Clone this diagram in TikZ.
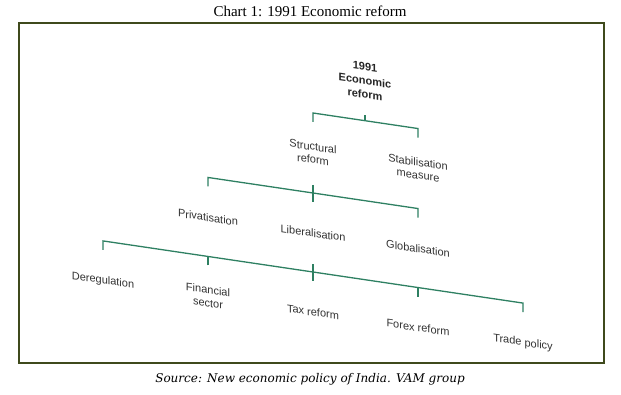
\documentclass[tikz,border=0pt]{standalone}
\usepackage{fontspec}
\setmainfont{Liberation Serif}
\setsansfont{Liberation Sans}
\newfontfamily\sourcefont{DejaVu Serif}

\definecolor{treegreen}{HTML}{2E8062}
\definecolor{framegreen}{HTML}{3F4A1C}
\definecolor{labelgray}{HTML}{333333}

\tikzset{
  item/.style={font=\sffamily\fontsize{11}{13}\selectfont, text=labelgray, align=center, inner sep=0pt, transform shape},
  root/.style={item, font=\sffamily\bfseries\fontsize{11}{14}\selectfont, text=black!85},
  branch/.style={draw=treegreen, line width=1.3pt}
}

\begin{document}
\begin{tikzpicture}[x=1pt,y=1pt]
    \useasboundingbox (0,0) rectangle (621,394);

    % Title, frame and source line
    \node[font=\fontsize{15}{17}\selectfont] (title) at (310,383) {Chart 1: 1991 Economic reform};
    \draw[framegreen, line width=1.2pt] (19,31) rectangle (604,371);
    \node[font=\sourcefont\itshape\fontsize{12}{14}\selectfont] (source) at (310,15) {Source: New economic policy of India. VAM group};

    \begin{scope}[shift={(313,0)}, yslant=-0.148]
    % Define nodes
    \node[root]		(reform)	at (52,321)		{1991\\Economic\\reform};
    \node[item]		(struct)	at (0,241)		{Structural\\reform};
    \node[item]		(stab)		at (105,241)	{Stabilisation\\measure};
    \node[item]		(priv)		at (-105,161)	{Privatisation};
    \node[item]		(lib)		at (0,161)		{Liberalisation};
    \node[item]		(glob)		at (105,161)	{Globalisation};
    \node[item]		(dereg)		at (-210,82)	{Deregulation};
    \node[item]		(fin)		at (-105,82)	{Financial\\sector};
    \node[item]		(tax)		at (0,82)		{Tax reform};
    \node[item]		(forex)		at (105,82)		{Forex reform};
    \node[item]		(trade)		at (210,82)		{Trade policy};

    % Connect nodes
    \draw[branch] ([yshift=-40pt]reform.center) -- ([yshift=-34pt]reform.center);
    \draw[branch] ([yshift=31pt]struct.center) -- ([yshift=40pt]struct.center) -- ([yshift=40pt]stab.center) -- ([yshift=31pt]stab.center);

    \draw[branch] ([yshift=-32pt]struct.center) -- ([yshift=31pt]lib.center);
    \draw[branch] ([yshift=31pt]priv.center) -- ([yshift=40pt]priv.center) -- ([yshift=40pt]glob.center) -- ([yshift=31pt]glob.center);

    \draw[branch] ([yshift=-31pt]lib.center) -- ([yshift=31pt]tax.center);
    \draw[branch] ([yshift=31pt]dereg.center) -- ([yshift=40pt]dereg.center) -- ([yshift=40pt]trade.center) -- ([yshift=31pt]trade.center);
    \draw[branch] ([yshift=31pt]fin.center) -- ([yshift=40pt]fin.center);
    \draw[branch] ([yshift=31pt]forex.center) -- ([yshift=40pt]forex.center);
    \end{scope}
\end{tikzpicture}
\end{document}
